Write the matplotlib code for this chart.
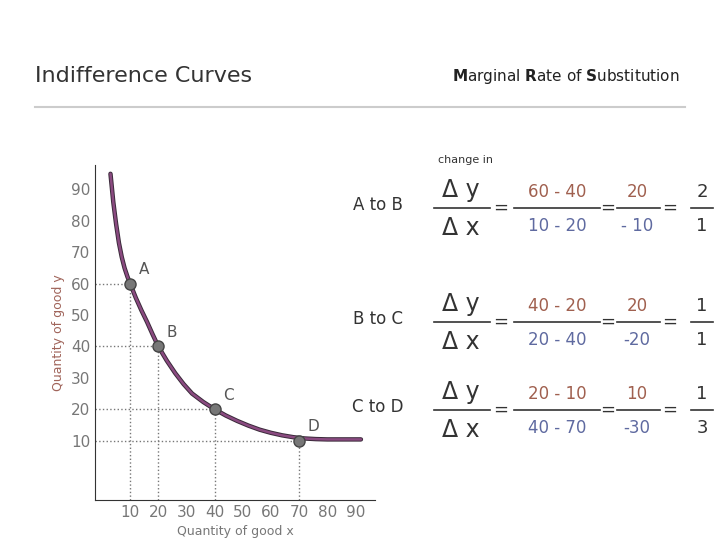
import matplotlib.pyplot as plt

W, H = 720, 539
curve_x = [3, 4, 5, 6, 7, 8, 9, 10, 12, 14, 16, 18, 20, 23, 26, 29, 32, 36, 40,
           44, 48, 52, 56, 60, 64, 68, 72, 76, 80, 86, 92]
curve_y = [95, 86, 79, 73, 68.5, 65, 62.3, 60, 55.5, 51.5, 47.8, 43.8, 40, 35.5,
           31.5, 28, 25, 22.3, 20, 18, 16.3, 14.8, 13.5, 12.5, 11.7, 11.1, 10.7,
           10.5, 10.4, 10.4, 10.4]
pt_names = ["A", "B", "C", "D"]
pt_x = [10, 20, 40, 70]
pt_y = [60, 40, 20, 10]
ticks = [10, 20, 30, 40, 50, 60, 70, 80, 90]

rows = [("A to B", "60 - 40", "10 - 20", "20", "- 10", "2", "1"),
        ("B to C", "40 - 20", "20 - 40", "20", "-20", "1", "1"),
        ("C to D", "20 - 10", "40 - 70", "10", "-30", "1", "3")]
row_y = [208, 322, 410]

num_c, den_c = "#a0604f", "#5f6aa0"

fig = plt.figure(figsize=(7.2, 5.39), dpi=100)
plt.rcParams["mathtext.fontset"] = "dejavusans"


def fx(px):
    return px / W


def fy(py):
    return 1 - py / H


def txt(px, py, s, **kw):
    kw.setdefault("ha", "center")
    kw.setdefault("va", "center")
    fig.text(fx(px), fy(py), s, **kw)


def hline(x0, x1, py, color="#333333", lw=1.2):
    fig.add_artist(plt.Line2D([fx(x0), fx(x1)], [fy(py), fy(py)], color=color, lw=lw))


# header
txt(35, 76, "Indifference Curves", ha="left", fontsize=16, color="#333333")
txt(680, 76, r"$\mathbf{M}$arginal $\mathbf{R}$ate of $\mathbf{S}$ubstitution",
    ha="right", fontsize=11, color="#222222")
hline(35, 685, 107, color="#cccccc", lw=1.5)

# graph
ax = fig.add_axes([fx(95), fy(500), 280 / W, 335 / H])
ax.set_xlim(-2.5, 97)
ax.set_ylim(-8.9, 97.8)
for s in ["top", "right"]:
    ax.spines[s].set_visible(False)
ax.spines["left"].set_color("#333333")
ax.spines["bottom"].set_color("#333333")
ax.set_xticks(ticks)
ax.set_yticks(ticks)
ax.tick_params(length=0, labelsize=11, colors="#777777")
ax.set_xlabel("Quantity of good x", fontsize=9, color="#777777")
ax.set_ylabel("Quantity of good y", fontsize=9, color="#a0645a")
for x, y, n in zip(pt_x, pt_y, pt_names):
    ax.plot([-2.5, x], [y, y], ls=":", color="#777777", lw=1)
    ax.plot([x, x], [-8.9, y], ls=":", color="#777777", lw=1)
    ax.text(x + 3, y + 3, n, fontsize=11, color="#555555")
ax.plot(curve_x, curve_y, color="#3a2a3a", lw=3.2, solid_capstyle="round")
ax.plot(curve_x, curve_y, color="#8a4a80", lw=1.8, solid_capstyle="round")
ax.plot(pt_x, pt_y, "o", ms=8, color="#777777", mec="#444444")

# formulas
txt(465, 160, "change in", fontsize=8, color="#333333")
for (lab, n1, d1, n2, d2, n3, d3), cy in zip(rows, row_y):
    txt(378, cy - 3, lab, fontsize=12, color="#333333")
    txt(461, cy - 18, "Δ y", fontsize=17, color="#333333")
    txt(461, cy + 20, "Δ x", fontsize=17, color="#333333")
    hline(434, 490, cy)
    txt(501, cy, "=", fontsize=13, color="#333333")
    txt(557, cy - 16, n1, fontsize=12, color=num_c)
    txt(557, cy + 18, d1, fontsize=12, color=den_c)
    hline(514, 600, cy)
    txt(608, cy, "=", fontsize=13, color="#333333")
    txt(637, cy - 16, n2, fontsize=12, color=num_c)
    txt(637, cy + 18, d2, fontsize=12, color=den_c)
    hline(617, 660, cy)
    txt(670, cy, "=", fontsize=13, color="#333333")
    txt(702, cy - 16, n3, fontsize=13, color="#333333")
    txt(702, cy + 18, d3, fontsize=13, color="#333333")
    hline(691, 713, cy)

fig.savefig("out.png", dpi=100)
